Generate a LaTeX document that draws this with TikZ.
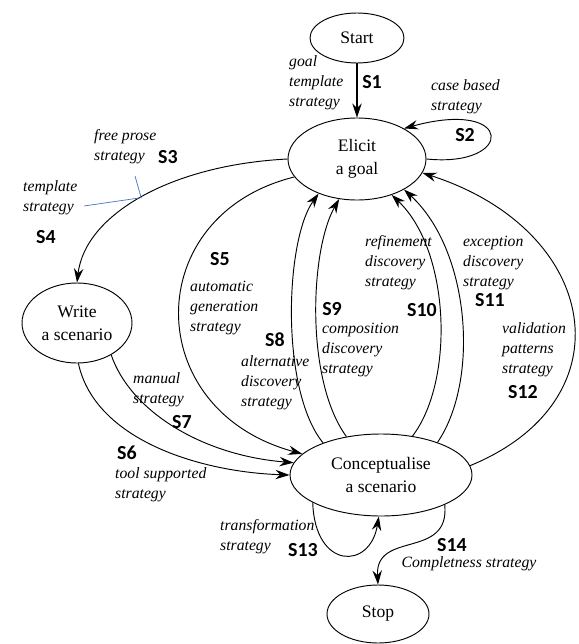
\documentclass[tikz,border=0pt]{standalone}
\usepackage{fontspec}
\setmainfont{Liberation Serif}
\newfontfamily\numfont{Carlito}
\usepackage{xcolor}
\usetikzlibrary{arrows.meta}
\usetikzlibrary{shapes.geometric}
\definecolor{callout}{RGB}{68,114,196}
\tikzset{
  state/.style={draw, ellipse, inner sep=0pt, align=center, line width=0.8pt, font=\fontsize{15}{20}\selectfont},
  strat/.style={inner sep=0pt, align=left, anchor=west, font=\fontsize{13.4}{17}\selectfont\itshape},
  snum/.style={inner sep=0pt, font=\fontsize{17}{20}\selectfont\numfont\bfseries},
  flow/.style={-{Stealth[length=12pt,width=8pt,inset=4pt]}, line width=0.8pt},
}
\begin{document}
\begin{tikzpicture}[x=0.03cm, y=-0.03cm]
  \useasboundingbox (0,0) rectangle (578,644);
  % states
  \node[state, minimum width=2.82cm, minimum height=1.5cm] (start) at (357,38) {Start};
  \node[state, minimum width=4.14cm, minimum height=2.46cm] (elicit) at (357,159) {Elicit\\a goal};
  \node[state, minimum width=3.3cm, minimum height=2.4cm] (write) at (77,323) {Write\\a scenario};
  \node[state, minimum width=5.46cm, minimum height=2.46cm] (concept) at (381,475) {Conceptualise\\a scenario};
  \node[state, minimum width=3.06cm, minimum height=1.74cm] (stop) at (378,614) {Stop};

  % strategies
  \draw[flow, line width=1.2pt] (start) -- (elicit);
  \draw[flow] (elicit.0) .. controls (515,168) and (515,98) .. (elicit.33);
  \draw[flow] (elicit.180) .. controls (170,165) and (85,215) .. (write.north) coordinate[pos=0.5] (s34);
  \draw[flow] (elicit.196) .. controls (140,215) and (140,410) .. (concept.165);
  \draw[flow] (write.-88) .. controls (95,440) and (200,472) .. (concept.180);
  \draw[flow] (write.-43) .. controls (130,410) and (200,455) .. (concept.172);
  \draw[flow] (concept.151) .. controls (280,390) and (285,240) .. (elicit.222);
  \draw[flow] (concept.132) .. controls (305,380) and (310,250) .. (elicit.246);
  \draw[flow] (concept.51) .. controls (455,380) and (450,250) .. (elicit.-46);
  \draw[flow] (concept.30) .. controls (480,380) and (470,250) .. (elicit.-33);
  \draw[flow] (concept.6) .. controls (630,400) and (600,230) .. (elicit.-12);
  \draw[flow] (concept.202) .. controls (315,570) and (370,570) .. (concept.-93);
  \draw[flow] (concept.-25) .. controls (450,560) and (375,530) .. (stop.north);

  % labels
  \node[strat] (t1) at (289,83) {goal\\template\\strategy};
  \node[snum] (s1) at (372,82) {S1};
  \node[strat] (t2) at (431,97) {case based\\strategy};
  \node[snum] (s2) at (465,135) {S2};
  \node[strat] (t3) at (94,147) {free prose\\strategy};
  \node[snum] (s3) at (168,157) {S3};
  \node[strat] (t4) at (23,198) {template\\strategy};
  \node[snum] (s4) at (46,237) {S4};
  \node[snum] (s5) at (220,259) {S5};
  \node[strat] (t5) at (190,308) {automatic\\generation\\strategy};
  \node[snum] (s6) at (127,453) {S6};
  \node[strat] (t6) at (115,485) {tool supported\\strategy};
  \node[snum] (s7) at (182,422) {S7};
  \node[strat] (t7) at (133,390) {manual\\strategy};
  \node[snum] (s8) at (275,340) {S8};
  \node[strat] (t8) at (241,383) {alternative\\discovery\\strategy};
  \node[snum] (s9) at (332,309) {S9};
  \node[strat] (t9) at (322,350) {composition\\discovery\\strategy};
  \node[snum] (s10) at (422,310) {S10};
  \node[strat] (t10) at (365,263) {refinement\\discovery\\strategy};
  \node[snum] (s11) at (490,300) {S11};
  \node[strat] (t11) at (463,263) {exception\\discovery\\strategy};
  \node[snum] (s12) at (523,392) {S12};
  \node[strat] (t12) at (502,350) {validation\\patterns\\strategy};
  \node[snum] (s13) at (303,550) {S13};
  \node[strat] (t13) at (220,537) {transformation\\strategy};
  \node[snum] (s14) at (452,545) {S14};
  \node[strat, anchor=center] (t14) at (469,564) {Completness strategy};

  % callout
  \coordinate (cuea) at (135,176);
  \coordinate (cueb) at (84,206);
  \draw[callout, line width=0.6pt] (cuea) -- (s34) -- (cueb);
\end{tikzpicture}
\end{document}
